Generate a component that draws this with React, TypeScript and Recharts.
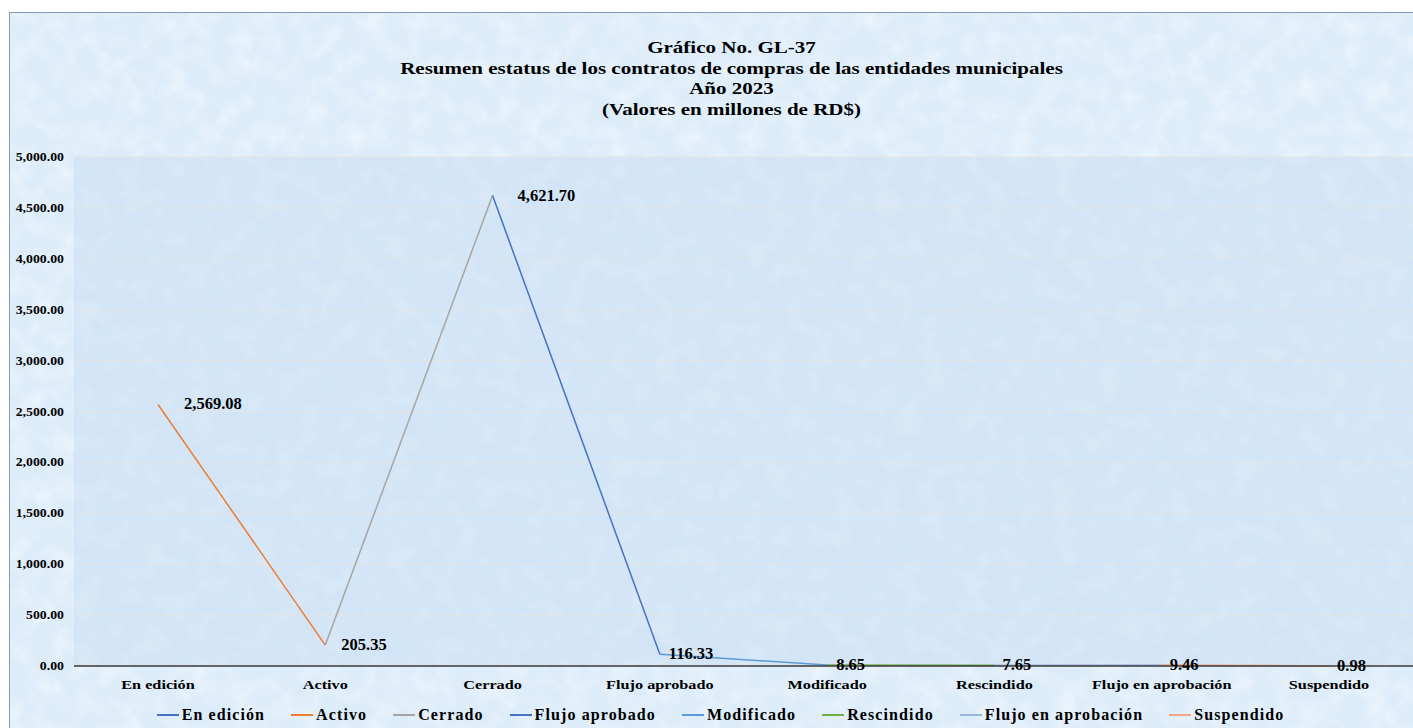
import { LineChart, Line, XAxis, YAxis, CartesianGrid, Legend, LabelList } from "recharts";

const categories = [
  "En edición",
  "Activo",
  "Cerrado",
  "Flujo aprobado",
  "Modificado",
  "Rescindido",
  "Flujo en aprobación",
  "Suspendido",
];
const values = [2569.08, 205.35, 4621.7, 116.33, 8.65, 7.65, 9.46, 0.98];
const yTicks = [0, 500, 1000, 1500, 2000, 2500, 3000, 3500, 4000, 4500, 5000];

// colour of each segment (from point i to point i+1)
const segmentColors = ["#ED7D31", "#A5A5A5", "#4472C4", "#5B9BD5", "#70AD47", "#9DB3E0", "#F4A582"];
// colour shown in the legend for each category
const legendColors = ["#4472C4", "#ED7D31", "#A5A5A5", "#4472C4", "#5B9BD5", "#70AD47", "#9DB3E0", "#F4A582"];
// horizontal gap between a point and its value label
const labelGap = [26, 16, 25, 9, 9, 8, 8, 8];

const titleLines = [
  "Gráfico No. GL-37",
  "Resumen estatus de los contratos de compras de las entidades municipales",
  "Año 2023",
  "(Valores en millones de RD$)",
];

const FONT = '"Liberation Serif", "Times New Roman", serif';

const rows = categories.map((name, i) => {
  const row: any = { name, value: values[i] };
  segmentColors.forEach((_, j) => {
    row[`s${j}`] = i === j || i === j + 1 ? values[i] : null;
  });
  return row;
});

const fmt = (v: number) =>
  v.toLocaleString("en-US", { minimumFractionDigits: 2, maximumFractionDigits: 2 });

// the original picture is stretched sideways, so text is drawn a bit wider
function XTick({ x, y, payload }: any) {
  return (
    <text
      transform={`translate(${x},${y + 15}) scale(1.25,1)`}
      textAnchor="middle"
      fontFamily={FONT}
      fontWeight="bold"
      fontSize={13}
      fill="#000"
    >
      {payload.value}
    </text>
  );
}

function YTick({ x, y, payload }: any) {
  return (
    <text
      transform={`translate(${x},${y + 4}) scale(1.15,1)`}
      textAnchor="end"
      fontFamily={FONT}
      fontWeight="bold"
      fontSize={12}
      fill="#000"
    >
      {fmt(payload.value)}
    </text>
  );
}

function ValueLabel({ x, y, value, index }: any) {
  return (
    <text
      x={x + labelGap[index]}
      y={y}
      dy={5}
      fontFamily={FONT}
      fontWeight="bold"
      fontSize={16.5}
      fill="#000"
    >
      {fmt(Number(value))}
    </text>
  );
}

function LegendContent() {
  return (
    <div
      style={{
        display: "flex",
        justifyContent: "center",
        gap: 26,
        fontFamily: FONT,
        fontWeight: "bold",
        fontSize: 16,
        letterSpacing: 1.1,
        color: "#000",
        paddingLeft: 18,
        paddingTop: 2,
      }}
    >
      {categories.map((c, i) => (
        <div key={c} style={{ display: "flex", alignItems: "center" }}>
          <span style={{ display: "inline-block", width: 22, height: 2, background: legendColors[i], marginRight: 3 }} />
          {c}
        </div>
      ))}
    </div>
  );
}

// light mottled paper texture behind the chart
function Texture() {
  return (
    <svg width={1404} height={716} style={{ position: "absolute", left: 0, top: 0 }}>
      <filter id="paper">
        <feTurbulence type="fractalNoise" baseFrequency="0.045" numOctaves={3} seed={7} />
        <feColorMatrix
          type="matrix"
          values="0 0 0 0 1  0 0 0 0 1  0 0 0 0 1  1.6 0 0 0 -0.62"
        />
      </filter>
      <rect width="100%" height="100%" filter="url(#paper)" opacity={0.55} />
    </svg>
  );
}

export default function App() {
  return (
    <div style={{ position: "absolute", left: 0, top: 0, width: 1413, height: 728, background: "#fff", overflow: "hidden" }}>
      <div
        style={{
          position: "absolute",
          left: 9,
          top: 12,
          width: 1404,
          height: 716,
          boxSizing: "border-box",
          borderLeft: "1px solid #7f9bbd",
          borderTop: "1px solid #7f9bbd",
          background: "#dcecf9",
        }}
      >
        <Texture />
        <div
          style={{
            position: "absolute",
            top: 24,
            left: 0,
            width: "100%",
            textAlign: "center",
            fontFamily: FONT,
            fontWeight: "bold",
            fontSize: 17.5,
            lineHeight: "20.5px",
            color: "#000",
            transform: "translateX(20px) scaleX(1.2)",
          }}
        >
          {titleLines.map((t) => (
            <div key={t}>{t}</div>
          ))}
        </div>
        <LineChart
          width={1403}
          height={715}
          data={rows}
          margin={{ top: 144, right: 0, bottom: 0, left: 0 }}
          style={{ position: "absolute", left: 0, top: 0 }}
        >
          <CartesianGrid vertical={false} stroke="#e3e3e3" strokeOpacity={0.9} fill="#c6dcf2" fillOpacity={0.45} />
          <XAxis
            dataKey="name"
            height={38}
            tickLine={false}
            axisLine={{ stroke: "#3a3a3a", strokeWidth: 1.5 }}
            tick={<XTick />}
            interval={0}
            padding={{ left: 84, right: 84 }}
          />
          <YAxis
            width={64}
            domain={[0, 5000]}
            ticks={yTicks}
            axisLine={false}
            tickLine={false}
            tick={<YTick />}
            tickMargin={4}
          />
          <Legend verticalAlign="bottom" height={24} content={<LegendContent />} />
          {segmentColors.map((c, j) => (
            <Line
              key={j}
              dataKey={`s${j}`}
              stroke={c}
              strokeWidth={1.5}
              dot={false}
              activeDot={false}
              connectNulls={false}
              isAnimationActive={false}
              legendType="none"
            />
          ))}
          <Line
            dataKey="value"
            stroke="none"
            dot={false}
            activeDot={false}
            isAnimationActive={false}
            legendType="none"
          >
            <LabelList dataKey="value" content={<ValueLabel />} />
          </Line>
        </LineChart>
      </div>
    </div>
  );
}
